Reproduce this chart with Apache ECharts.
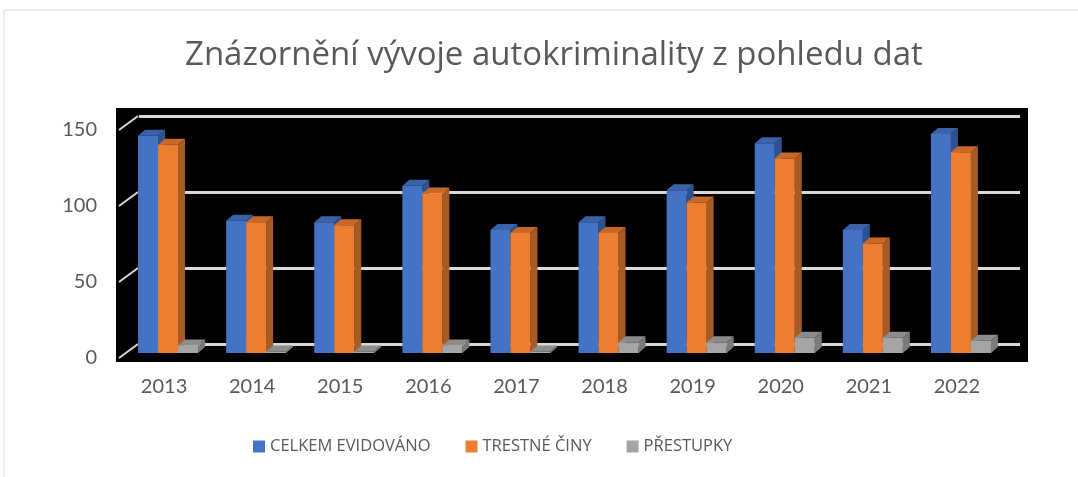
<!DOCTYPE html>
<html>
<head>
<meta charset="utf-8">
<script src="https://cdn.jsdelivr.net/npm/echarts@6/dist/echarts.min.js"></script>
<style>
  html, body { margin: 0; padding: 0; background: #fff; }
  #autokrim_con { width: 1078px; height: 477px; }
</style>
</head>
<body>
<div id="autokrim_con"></div>
<script>
// data
var years = ['2013', '2014', '2015', '2016', '2017', '2018', '2019', '2020', '2021', '2022'];
var celkem = [143, 87, 86, 110, 81, 86, 107, 138, 81, 144];
var trestne = [137, 86, 84, 105, 79, 79, 99, 128, 72, 132];
var prestupky = [5, 1, 1, 5, 1, 7, 7, 10, 10, 8];
var yTicks = [0, 50, 100, 150];

var textGray = '#595959';
var fontFam = 'Lato, "Noto Sans", sans-serif';
var titleFam = '"Open Sans", Lato, sans-serif';

// front / side / top colours of the 3D columns
var palette = [
  { front: '#4472C4', side: '#2F528F', top: '#3A62A8' },
  { front: '#ED7D31', side: '#A85A24', top: '#C8692A' },
  { front: '#A5A5A5', side: '#7B7B7B', top: '#8C8C8C' }
];

var barRatio = 0.227;
var shiftX = 4, shiftY = -5;   // bar front plane vs floor front edge
var depthX = 7, depthY = -6;   // depth of one column
var wallX = 19, wallY = -14;   // floor depth (front edge -> back wall)

function columnRender(idx) {
  var c = palette[idx];
  return function (params, api) {
    var cat = api.value(0);
    var base = api.coord([cat, 0]);
    var top = api.coord([cat, api.value(1)]);
    var band = api.size([1, 0])[0];
    var w = band * barRatio;
    var x0 = base[0] - 1.5 * w + idx * w + shiftX;
    var x1 = x0 + w;
    var yb = base[1] + shiftY;
    var yt = top[1] + shiftY;
    return {
      type: 'group',
      children: [
        { type: 'polygon', shape: { points: [[x1, yt], [x1 + depthX, yt + depthY], [x1 + depthX, yb + depthY], [x1, yb]] }, style: { fill: c.side } },
        { type: 'polygon', shape: { points: [[x0, yt], [x0 + depthX, yt + depthY], [x1 + depthX, yt + depthY], [x1, yt]] }, style: { fill: c.top } },
        { type: 'rect', shape: { x: x0, y: yt, width: w, height: yb - yt }, style: { fill: c.front } }
      ]
    };
  };
}

function diagRender(params, api) {
  var y = api.coord([0, api.value(1)])[1];
  var x = params.coordSys.x;
  return {
    type: 'line',
    shape: { x1: x - 1, y1: y, x2: x - 1 + wallX, y2: y + wallY },
    style: { stroke: '#D9D9D9', lineWidth: 2 }
  };
}

function seriesData(arr) {
  var out = [];
  arr.forEach(function (v, i) { out.push([i, v]); });
  return out;
}

var chart = echarts.init(document.getElementById('autokrim_con'));

var option = {
  animation: false,
  title: {
    text: 'Znázornění vývoje autokriminality z pohledu dat',
    left: 180,
    top: 34,
    textStyle: { fontFamily: titleFam, fontSize: 33, fontWeight: 'normal', color: textGray }
  },
  graphic: [
    { type: 'rect', z: -10, shape: { x: 4, y: 10, width: 1200, height: 600 }, style: { fill: '#fff', stroke: '#D9D9D9', lineWidth: 1 } },
    { type: 'rect', z: -5, shape: { x: 116, y: 108, width: 912, height: 254 }, style: { fill: '#000' } }
  ],
  legend: {
    left: 248,
    top: 433,
    icon: 'rect',
    itemWidth: 12,
    itemHeight: 12,
    itemGap: 35,
    textStyle: { fontFamily: titleFam, fontSize: 16.5, color: textGray },
    data: ['CELKEM EVIDOVÁNO', 'TRESTNÉ ČINY', 'PŘESTUPKY']
  },
  grid: [
    { left: 120, right: 77, top: 130, bottom: 119 },
    { left: 139, right: 58, top: 116, bottom: 133 }
  ],
  xAxis: [
    {
      type: 'category', data: years, gridIndex: 0,
      axisLine: { show: false }, axisTick: { show: false },
      axisLabel: { margin: 19, fontFamily: fontFam, fontSize: 20, color: textGray }
    },
    { type: 'category', data: years, gridIndex: 1, show: false }
  ],
  yAxis: [
    {
      type: 'value', gridIndex: 0, min: 0, max: 150, interval: 50,
      axisLine: { show: false }, axisTick: { show: false }, splitLine: { show: false },
      axisLabel: { margin: 23, fontFamily: fontFam, fontSize: 20, color: textGray }
    },
    {
      type: 'value', gridIndex: 1, min: 0, max: 150, interval: 50,
      axisLine: { show: false }, axisTick: { show: false }, axisLabel: { show: false },
      splitLine: { show: true, lineStyle: { color: '#D9D9D9', width: 3 } }
    }
  ],
  series: [
    {
      name: 'diag', type: 'custom', xAxisIndex: 0, yAxisIndex: 0, silent: true,
      renderItem: diagRender,
      data: yTicks.map(function (v) { return [0, v]; })
    },
    {
      name: 'CELKEM EVIDOVÁNO', type: 'custom', xAxisIndex: 0, yAxisIndex: 0,
      itemStyle: { color: palette[0].front },
      renderItem: columnRender(0), data: seriesData(celkem)
    },
    {
      name: 'TRESTNÉ ČINY', type: 'custom', xAxisIndex: 0, yAxisIndex: 0,
      itemStyle: { color: palette[1].front },
      renderItem: columnRender(1), data: seriesData(trestne)
    },
    {
      name: 'PŘESTUPKY', type: 'custom', xAxisIndex: 0, yAxisIndex: 0,
      itemStyle: { color: palette[2].front },
      renderItem: columnRender(2), data: seriesData(prestupky)
    }
  ]
};

chart.setOption(option);
</script>
</body>
</html>
